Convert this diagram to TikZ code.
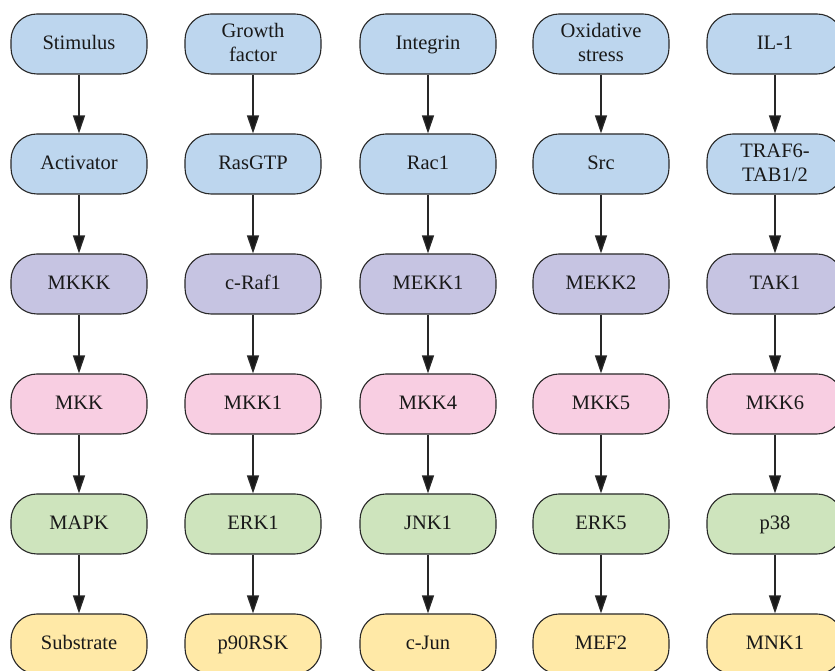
\documentclass[tikz,border=0pt]{standalone}
\usepackage{fontspec}
\setmainfont{Liberation Serif}
\usetikzlibrary{arrows.meta}
\definecolor{cblue}{RGB}{189,214,238}
\definecolor{cpurple}{RGB}{198,196,226}
\definecolor{cpink}{RGB}{248,206,226}
\definecolor{cgreen}{RGB}{206,228,189}
\definecolor{cyellow}{RGB}{255,233,167}
\definecolor{cline}{RGB}{40,40,40}
\tikzset{
  box/.style={draw=cline, line width=1.1pt, rounded corners=26pt, minimum width=136pt, minimum height=60pt, inner sep=0pt, align=center, font=\fontsize{20.5}{24}\selectfont, text=black!90, text height=14.3pt, text depth=4.1pt},
  twoline/.style={text height=38.3pt, text depth=4.1pt},
  bl/.style={box, fill=cblue},
  pu/.style={box, fill=cpurple},
  pk/.style={box, fill=cpink},
  gr/.style={box, fill=cgreen},
  ye/.style={box, fill=cyellow},
  arr/.style={draw=cline, line width=1.3pt, -{Triangle[length=18pt,width=12pt,fill=black!90]}}
}
\begin{document}
\begin{tikzpicture}[x=1pt,y=1pt]
\useasboundingbox (0,0) rectangle (835,671);
\fill[white] (0,0) rectangle (835,671);
\begin{scope}
\clip (0,0) rectangle (835,671);
% columns
\def\cA{79}\def\cB{253}\def\cC{428}\def\cD{601}\def\cE{775}
% rows (y from top: 44,164,284,404,524,644)
\def\rA{627}\def\rB{507}\def\rC{387}\def\rD{267}\def\rE{147}\def\rF{27}
\node[bl] (a1) at (\cA,\rA) {Stimulus};
\node[bl] (a2) at (\cA,\rB) {Activator};
\node[pu] (a3) at (\cA,\rC) {MKKK};
\node[pk] (a4) at (\cA,\rD) {MKK};
\node[gr] (a5) at (\cA,\rE) {MAPK};
\node[ye] (a6) at (\cA,\rF) {Substrate};

\node[bl,twoline] (b1) at (\cB,\rA) {Growth\\factor};
\node[bl] (b2) at (\cB,\rB) {RasGTP};
\node[pu] (b3) at (\cB,\rC) {c-Raf1};
\node[pk] (b4) at (\cB,\rD) {MKK1};
\node[gr] (b5) at (\cB,\rE) {ERK1};
\node[ye] (b6) at (\cB,\rF) {p90RSK};

\node[bl] (c1) at (\cC,\rA) {Integrin};
\node[bl] (c2) at (\cC,\rB) {Rac1};
\node[pu] (c3) at (\cC,\rC) {MEKK1};
\node[pk] (c4) at (\cC,\rD) {MKK4};
\node[gr] (c5) at (\cC,\rE) {JNK1};
\node[ye] (c6) at (\cC,\rF) {c-Jun};

\node[bl,twoline] (d1) at (\cD,\rA) {Oxidative\\stress};
\node[bl] (d2) at (\cD,\rB) {Src};
\node[pu] (d3) at (\cD,\rC) {MEKK2};
\node[pk] (d4) at (\cD,\rD) {MKK5};
\node[gr] (d5) at (\cD,\rE) {ERK5};
\node[ye] (d6) at (\cD,\rF) {MEF2};

\node[bl] (e1) at (\cE,\rA) {IL-1};
\node[bl,twoline] (e2) at (\cE,\rB) {TRAF6-\\TAB1/2};
\node[pu] (e3) at (\cE,\rC) {TAK1};
\node[pk] (e4) at (\cE,\rD) {MKK6};
\node[gr] (e5) at (\cE,\rE) {p38};
\node[ye] (e6) at (\cE,\rF) {MNK1};

\foreach \c in {a,b,c,d,e}{
  \foreach \i/\j in {1/2,2/3,3/4,4/5,5/6}{
    \draw[arr] (\c\i.south) -- (\c\j.north);
  }
}
\end{scope}
\end{tikzpicture}
\end{document}
